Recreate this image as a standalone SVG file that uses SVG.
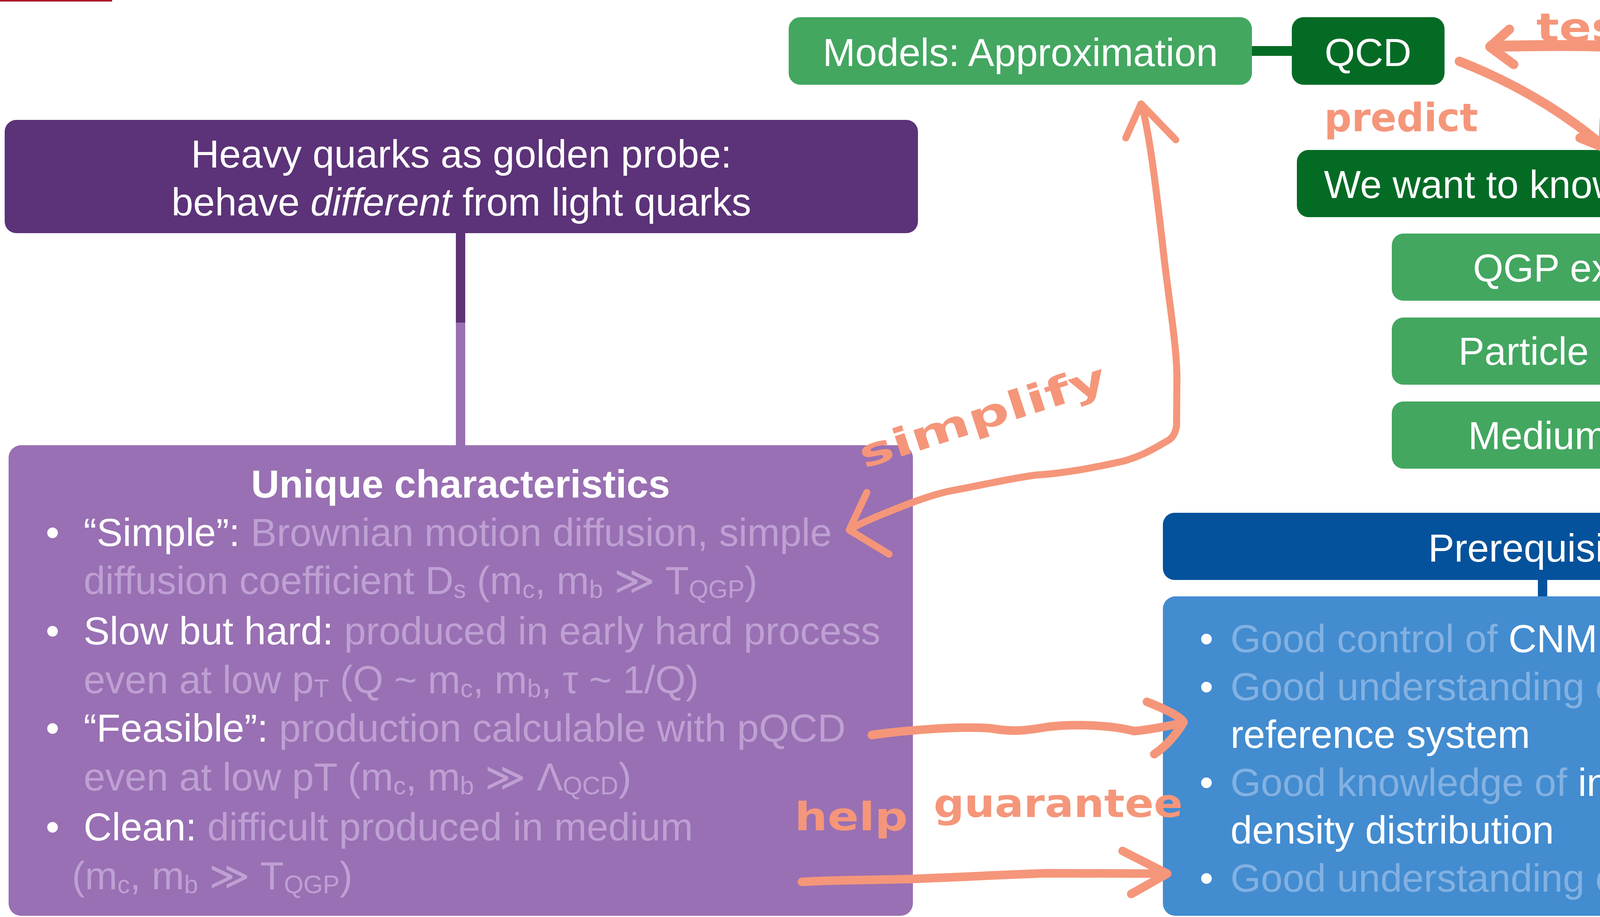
<svg xmlns="http://www.w3.org/2000/svg" width="4969" height="2348" viewBox="0 0 4969 2348">
<defs>
<style>
text{font-family:"Liberation Sans",Arial,Helvetica,sans-serif;font-size:100px;}
.w{fill:#ffffff;}
.c{text-anchor:middle;fill:#ffffff;}
.lp{fill:#bea0d3;}
.lb{fill:#83b1e1;}
.b{font-weight:bold;}
.dg{fill:#046b25;}
.mg{fill:#43a760;}
.pen{fill:none;stroke:#f5967a;stroke-linecap:round;stroke-linejoin:round;}
.hw{font-family:"Liberation Sans Narrow","DejaVu Sans Condensed","Liberation Sans",sans-serif;font-weight:bold;fill:#f5967a;}
</style>
</defs>
<rect x="0" y="0" width="4969" height="2348" fill="#ffffff"/>
<rect x="0" y="0" width="287" height="4" fill="#a91b2e"/>

<g id="connectors">
<rect x="1167" y="596" width="24" height="230" fill="#5c3278"/>
<rect x="1167" y="826" width="24" height="316" fill="#9970b3"/>
<rect x="3203" y="118" width="106" height="25" class="dg"/>
<rect x="4096" y="554" width="24" height="46" class="dg"/>
<rect x="4096" y="768" width="24" height="47" class="mg"/>
<rect x="4096" y="983" width="24" height="47" class="mg"/>
<rect x="3937" y="1483" width="24" height="46" fill="#04529c"/>
</g>

<g id="node-heavy">
<rect x="12" y="307" width="2338" height="290" rx="30" fill="#5c3278"/>
<text x="1181" y="429" class="c">Heavy quarks as golden probe:</text>
<text x="1181" y="552" class="c">behave <tspan font-style="italic">different</tspan> from light quarks</text>
</g>

<g id="node-unique">
<rect x="22" y="1140" width="2315" height="1205" rx="32" fill="#9970b3"/>
<text x="1179" y="1274" class="c b">Unique characteristics</text>
<text x="117" y="1398"><tspan class="w">•</tspan><tspan x="214" class="w">“Simple”:</tspan><tspan class="lp"> Brownian motion diffusion, simple</tspan></text>
<text x="214" y="1521" class="lp">diffusion coefficient D<tspan font-size="64" dy="10">s</tspan><tspan dy="-10"> (m</tspan><tspan font-size="64" dy="10">c</tspan><tspan dy="-10">, m</tspan><tspan font-size="64" dy="10">b</tspan><tspan dy="-10"> ≫ T</tspan><tspan font-size="64" dy="10">QGP</tspan><tspan dy="-10">)</tspan></text>
<text x="117" y="1650"><tspan class="w">•</tspan><tspan x="214" class="w">Slow but hard:</tspan><tspan class="lp"> produced in early hard process</tspan></text>
<text x="214" y="1775" class="lp">even at low p<tspan font-size="64" dy="10">T</tspan><tspan dy="-10"> (Q ~ m</tspan><tspan font-size="64" dy="10">c</tspan><tspan dy="-10">, m</tspan><tspan font-size="64" dy="10">b</tspan><tspan dy="-10">, τ ~ 1/Q)</tspan></text>
<text x="117" y="1899"><tspan class="w">•</tspan><tspan x="214" class="w">“Feasible”:</tspan><tspan class="lp"> production calculable with pQCD</tspan></text>
<text x="214" y="2024" class="lp">even at low pT (m<tspan font-size="64" dy="10">c</tspan><tspan dy="-10">, m</tspan><tspan font-size="64" dy="10">b</tspan><tspan dy="-10"> ≫ Λ</tspan><tspan font-size="64" dy="10">QCD</tspan><tspan dy="-10">)</tspan></text>
<text x="117" y="2152"><tspan class="w">•</tspan><tspan x="214" class="w">Clean:</tspan><tspan class="lp"> difficult produced in medium</tspan></text>
<text x="184" y="2277" class="lp">(m<tspan font-size="64" dy="10">c</tspan><tspan dy="-10">, m</tspan><tspan font-size="64" dy="10">b</tspan><tspan dy="-10"> ≫ T</tspan><tspan font-size="64" dy="10">QGP</tspan><tspan dy="-10">)</tspan></text>
</g>

<g id="node-models">
<rect x="2019" y="44" width="1186" height="173" rx="30" class="mg"/>
<text x="2612" y="169" class="c">Models: Approximation</text>
</g>

<g id="node-qcd">
<rect x="3307" y="44" width="391" height="173" rx="30" class="dg"/>
<text x="3502" y="169" class="c">QCD</text>
</g>

<g id="node-qgp">
<rect x="4497" y="44" width="395" height="173" rx="30" class="dg"/>
<text x="4694" y="169" class="c">QGP</text>
</g>

<g id="node-experiments">
<rect x="3320" y="384" width="1574" height="172" rx="30" class="dg"/>
<text x="4108" y="507" class="c">We want to know in experiments</text>
</g>

<g id="node-existence">
<rect x="3563" y="598" width="1087" height="172" rx="30" class="mg"/>
<text x="4106" y="721" class="c">QGP existence</text>
</g>

<g id="node-particle">
<rect x="3563" y="813" width="1087" height="172" rx="30" class="mg"/>
<text x="4106" y="934" class="c">Particle behavior</text>
</g>

<g id="node-medium">
<rect x="3563" y="1028" width="1087" height="172" rx="30" class="mg"/>
<text x="4106" y="1150" class="c">Medium feature</text>
</g>

<g id="node-prereq">
<rect x="2977" y="1313" width="1943" height="172" rx="30" fill="#04529c"/>
<text x="3948" y="1438" class="c">Prerequisites</text>
</g>

<g id="node-prereq-list">
<rect x="2977" y="1527" width="1943" height="818" rx="32" fill="#438cd0"/>
<text x="3071" y="1670"><tspan class="w">•</tspan><tspan x="3150" class="lb">Good control of </tspan><tspan class="w">CNM effects</tspan></text>
<text x="3071" y="1793"><tspan class="w">•</tspan><tspan x="3150" class="lb">Good understanding of </tspan><tspan class="w">baseline/</tspan></text>
<text x="3150" y="1915" class="w">reference system</text>
<text x="3071" y="2038"><tspan class="w">•</tspan><tspan x="3150" class="lb">Good knowledge of </tspan><tspan class="w">initial energy</tspan></text>
<text x="3150" y="2160" class="w">density distribution</text>
<text x="3071" y="2283"><tspan class="w">•</tspan><tspan x="3150" class="lb">Good understanding of </tspan><tspan class="w">hadronization</tspan></text>
</g>

<g id="annotations">
<path class="pen" stroke-width="28" d="M4420,124 C4300,128 4200,124 4100,118 C4000,114 3900,118 3818,118"/>
<path class="pen" stroke-width="24" d="M3864,75 L3814,120 L3875,165"/>
<path class="pen" stroke-width="24" d="M3736,157 Q3943,238 4100,370"/>
<path class="pen" stroke-width="24" d="M4045,353 L4104,377 L4107,307"/>
<path class="pen" stroke-width="24" d="M4141,350 Q4290,240 4505,153"/>
<path class="pen" stroke-width="24" d="M4452,158 L4513,150 L4503,205"/>
<path class="pen" stroke-width="18" d="M2924,272 C2945,360 2958,470 2975,615 C2990,760 3010,860 3013,960 L3012,1090 Q3008,1118 2990,1128 C2960,1145 2930,1165 2879,1180 C2800,1198 2720,1212 2656,1216 C2600,1222 2500,1245 2433,1257 C2380,1268 2320,1292 2273,1311 C2230,1328 2200,1342 2176,1355"/>
<path class="pen" stroke-width="18" d="M2882,353 L2921,266 L3010,358"/>
<path class="pen" stroke-width="18" d="M2219,1261 L2174,1357 L2276,1419"/>
<path class="pen" stroke-width="22" d="M2232,1882 C2300,1872 2450,1858 2537,1865 C2590,1874 2620,1872 2683,1861 C2760,1852 2850,1858 2903,1872 C2950,1868 2990,1858 3025,1852"/>
<path class="pen" stroke-width="22" d="M2936,1797 Q3020,1830 3030,1849 Q3000,1900 2955,1931"/>
<path class="pen" stroke-width="22" d="M2053,2258 C2150,2252 2243,2254 2350,2250 C2500,2244 2600,2238 2683,2236 L2984,2237"/>
<path class="pen" stroke-width="22" d="M2874,2179 L2988,2237 L2896,2289"/>
<text class="hw" x="3933" y="105" font-size="130" textLength="272" lengthAdjust="spacingAndGlyphs">test</text>
<text class="hw" x="3390" y="336" font-size="150" textLength="394" lengthAdjust="spacingAndGlyphs">predict</text>
<text class="hw" x="4335" y="336" font-size="150" textLength="622" lengthAdjust="spacingAndGlyphs">understand</text>
<text class="hw" x="2212" y="1200" font-size="160" textLength="660" lengthAdjust="spacingAndGlyphs" transform="rotate(-18 2212 1200)">simplify</text>
<text class="hw" x="2034" y="2126" font-size="160" textLength="290" lengthAdjust="spacingAndGlyphs">help</text>
<text class="hw" x="2390" y="2092" font-size="155" textLength="638" lengthAdjust="spacingAndGlyphs">guarantee</text>
</g>
</svg>
